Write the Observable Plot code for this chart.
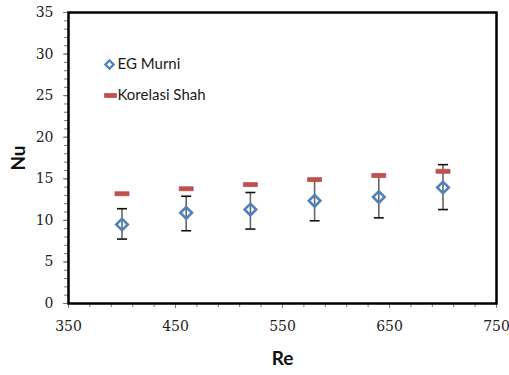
<!DOCTYPE html>
<html><head><meta charset="utf-8">
<script src="https://cdn.jsdelivr.net/npm/d3@7"></script>
<script src="https://cdn.jsdelivr.net/npm/@observablehq/plot@0.6"></script>
<style>body{margin:0;background:#fff}</style>
</head><body><div id="chart"></div>
<script>
const re = [400, 460, 520, 580, 640, 700];
const nuMurni = [9.5, 10.9, 11.3, 12.35, 12.8, 13.95];
const errLow = [7.75, 8.75, 8.95, 9.95, 10.3, 11.3];
const errHigh = [11.4, 12.9, 13.35, 14.8, 15.3, 16.7];
const nuShah = [13.2, 13.8, 14.3, 14.9, 15.4, 15.9];
const seriesNames = ["EG Murni", "Korelasi Shah"];
const xMajor = [350, 450, 550, 650, 750];
const yMajor = [0, 5, 10, 15, 20, 25, 30, 35];
const xMinor = d3.range(350, 751, 20);
const yMinor = d3.range(0, 36, 1);

const data = re.map((r, i) => ({re: r, nu: nuMurni[i], lo: errLow[i], hi: errHigh[i], shah: nuShah[i]}));

const blue = "#4f81bd", red = "#c0504d";
const capSym = {draw(ctx) { ctx.moveTo(-5, 0); ctx.lineTo(5, 0); }};
const dashSym = {draw(ctx) { ctx.moveTo(-7, -2); ctx.lineTo(7, -2); ctx.lineTo(7, 2); ctx.lineTo(-7, 2); ctx.closePath(); }};
const dashSmall = {draw(ctx) { ctx.moveTo(-6, -2); ctx.lineTo(6, -2); ctx.lineTo(6, 2); ctx.lineTo(-6, 2); ctx.closePath(); }};
const sans = "Lato, 'Open Sans', sans-serif";

const chart = Plot.plot({
  width: 509, height: 375,
  marginLeft: 68, marginRight: 13, marginTop: 12, marginBottom: 72,
  style: {fontFamily: "'DejaVu Serif', serif", fontSize: "14px", color: "#222", background: "#fff"},
  x: {domain: [350, 750], label: null},
  y: {domain: [0, 35], label: null},
  marks: [
    Plot.axisX({ticks: xMinor, tickSize: 4, tickFormat: () => "", stroke: "#777", label: null}),
    Plot.axisX({ticks: xMajor, tickSize: 5, tickPadding: 13, stroke: "#777", fill: "#222", label: null}),
    Plot.axisY({ticks: yMinor, tickSize: 4, tickFormat: () => "", stroke: "#777", label: null}),
    Plot.axisY({ticks: yMajor, tickSize: 5, tickPadding: 10, stroke: "#777", fill: "#222", label: null}),
    Plot.ruleX(data, {x: "re", y1: "lo", y2: "hi", stroke: "#666", strokeWidth: 1.6}),
    Plot.dot(data, {x: "re", y: "lo", symbol: capSym, stroke: "#111", strokeWidth: 1.6, r: 3}),
    Plot.dot(data, {x: "re", y: "hi", symbol: capSym, stroke: "#111", strokeWidth: 1.6, r: 3}),
    Plot.dot(data, {x: "re", y: "shah", symbol: dashSym, fill: red, stroke: red, strokeWidth: 0.8, strokeLinejoin: "round", r: 3}),
    Plot.dot(data, {x: "re", y: "nu", symbol: "square", rotate: 45, r: 4.6, stroke: blue, strokeWidth: 2.6, fill: "none"}),
    Plot.frame({stroke: "#000", strokeWidth: 2.5}),
    // legend
    Plot.dot([seriesNames[0]], {frameAnchor: "top-left", dx: 41, dy: 52, symbol: "square", rotate: 45, r: 3.3, stroke: blue, strokeWidth: 2.3, fill: "none"}),
    Plot.text([seriesNames[0]], {frameAnchor: "top-left", dx: 49, dy: 52, text: d => d, textAnchor: "start", lineAnchor: "middle", fontFamily: sans, fontSize: 15, fill: "#1a1a1a"}),
    Plot.dot([seriesNames[1]], {frameAnchor: "top-left", dx: 42, dy: 83, symbol: dashSmall, fill: red, stroke: red, strokeWidth: 0.8, r: 3}),
    Plot.text([seriesNames[1]], {frameAnchor: "top-left", dx: 49, dy: 83, text: d => d, textAnchor: "start", lineAnchor: "middle", fontFamily: sans, fontSize: 15, fill: "#1a1a1a"}),
    // axis titles
    Plot.text(["Nu"], {frameAnchor: "left", dx: -50, text: d => d, rotate: -90, textAnchor: "middle", lineAnchor: "middle", fontFamily: sans, fontWeight: "bold", fontSize: 19, fill: "#111"}),
    Plot.text(["Re"], {frameAnchor: "bottom", dy: 55, text: d => d, textAnchor: "middle", lineAnchor: "middle", fontFamily: sans, fontWeight: "bold", fontSize: 19, fill: "#111"})
  ]
});
document.getElementById("chart").appendChild(chart);
</script>
</body></html>
